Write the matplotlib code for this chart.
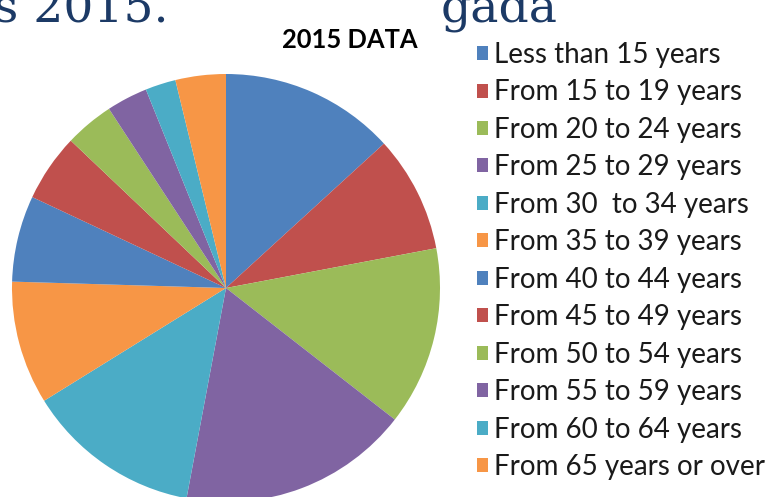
import matplotlib
matplotlib.use('Agg')
import matplotlib.pyplot as plt

# age groups and their share of the total (%)
labels = ['Less than 15 years', 'From 15 to 19 years', 'From 20 to 24 years',
          'From 25 to 29 years', 'From 30  to 34 years', 'From 35 to 39 years',
          'From 40 to 44 years', 'From 45 to 49 years', 'From 50 to 54 years',
          'From 55 to 59 years', 'From 60 to 64 years', 'From 65 years or over']
shares = [13.2, 8.8, 13.5, 17.4, 13.2, 9.3, 6.5, 5.1, 3.7, 3.1, 2.3, 3.8]

colors = ['#4F81BD', '#C0504D', '#9BBB59', '#8064A2', '#4BACC6', '#F79646'] * 2

W, H = 769, 497
fig = plt.figure(figsize=(W / 100, H / 100), dpi=100)

# pie axes placed in pixels: centre (226, 288 from top), radius 214
cx, cy, r = 226, H - 288, 214
ax = fig.add_axes([(cx - r) / W, (cy - r) / H, 2 * r / W, 2 * r / H])
wedges, _ = ax.pie(shares, colors=colors, startangle=90, counterclock=False,
                   wedgeprops=dict(linewidth=0))
ax.set_xlim(-1, 1)
ax.set_ylim(-1, 1)
ax.set_aspect('equal')
ax.axis('off')

# slide heading, cut by the top edge
fig.text(-6 / W, 1 - 21 / H, 's 2015.', family='DejaVu Serif', fontsize=34,
         color='#1c3a66', va='baseline', ha='left')
fig.text(441 / W, 1 - 21 / H, 'gada', family='DejaVu Serif', fontsize=34,
         color='#1c3a66', va='baseline', ha='left')

fig.text(350 / W, 1 - 48 / H, '2015 DATA', family='Lato', fontweight='bold',
         fontsize=18.4, color='black', ha='center', va='baseline')

leg = fig.legend(wedges, labels, loc='upper left',
                 bbox_to_anchor=(477 / W, 1 - 42 / H),
                 frameon=False, prop=dict(family='Lato', size=20),
                 handlelength=0.4, handleheight=0.4, handletextpad=0.2,
                 labelspacing=0.413, borderpad=0, borderaxespad=0)
for t in leg.get_texts():
    t.set_color('#1a1a1a')

fig.savefig('out.png', dpi=100)
